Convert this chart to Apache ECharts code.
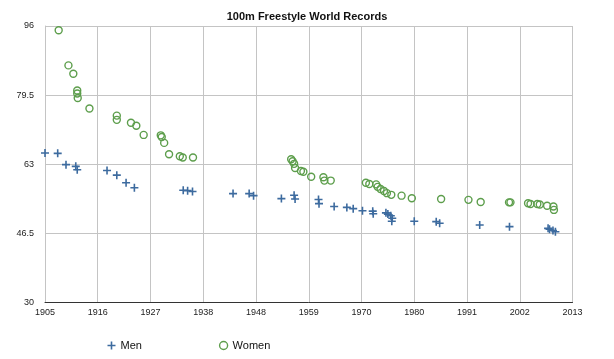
<!DOCTYPE html>
<html>
<head>
<meta charset="utf-8">
<script src="https://cdn.jsdelivr.net/npm/echarts@6/dist/echarts.min.js"></script>
<style>
html,body{margin:0;padding:0;background:#fff;}
#c{width:614px;height:359px;}
</style>
</head>
<body>
<div id="c"></div>
<script>
const title = '100m Freestyle World Records';
const seriesNames = ['Men', 'Women'];
const xTickLabels = ['1905','1916','1927','1938','1948','1959','1970','1980','1991','2002','2013'];
const yTickValues = [30, 46.5, 63, 79.5, 96];

const menYears = [1905.0,1907.6,1909.3,1911.3,1911.6,1917.7,1919.7,1921.6,1923.3,1933.3,1934.2,1935.2,1943.5,1946.8,1947.7,1953.4,1956.0,1956.2,1961.0,1961.1,1964.2,1966.8,1968.1,1970.0,1972.1,1972.2,1974.8,1975.2,1975.8,1976.1,1976.0,1980.6,1985.1,1985.8,1994.0,2000.1,2008.0,2008.3,2009.0,2009.5];
const menTimes = [65.7,65.6,62.9,62.5,61.7,61.5,60.4,58.6,57.4,56.8,56.7,56.5,56.0,56.0,55.5,54.8,55.6,54.7,54.6,53.6,52.9,52.7,52.4,51.9,51.8,51.2,51.4,51.1,50.7,50.1,49.4,49.4,49.3,48.9,48.5,48.1,47.7,47.5,47.2,46.9];

const womenYears = [1907.8,1909.8,1910.8,1911.6,1911.6,1911.7,1914.1,1919.7,1919.7,1922.6,1923.7,1925.2,1928.7,1928.9,1929.4,1930.4,1932.6,1933.2,1935.3,1955.4,1955.7,1956.0,1956.2,1957.4,1957.9,1959.5,1962.0,1962.2,1963.5,1970.7,1971.4,1972.8,1973.1,1973.7,1974.4,1975.0,1975.9,1978.0,1980.1,1986.1,1991.7,1994.2,2000.0,2000.3,2003.9,2004.4,2005.8,2006.3,2007.8,2009.1,2009.2];
const womenTimes = [95.0,86.6,84.6,80.6,79.9,78.8,76.3,74.6,73.6,72.9,72.2,70.0,69.9,69.5,68.1,65.4,64.9,64.6,64.6,64.2,63.7,63.1,62.1,61.4,61.2,60.0,59.9,59.1,59.1,58.6,58.3,58.2,57.6,57.1,56.6,56.1,55.7,55.5,54.9,54.7,54.5,54.0,53.9,53.9,53.7,53.5,53.5,53.4,53.1,52.9,52.1];

const xMin = 1905, xMax = 2013;
const xTickValues = xTickLabels.map((_, i) => xMin + i * (xMax - xMin) / (xTickLabels.length - 1));
const plusPath = 'path://M4,0H6V4H10V6H6V10H4V6H0V4H4Z';
const blue = '#3d6b9f';
const green = '#5d9e4c';
const font = 'Liberation Sans, Arial, Helvetica, sans-serif';

const chart = echarts.init(document.getElementById('c'), null, {renderer: 'canvas'});
chart.setOption({
  animation: false,
  backgroundColor: '#fff',
  title: {
    text: title, left: 'center', top: 6,
    textStyle: {fontFamily: font, fontSize: 11, fontWeight: 'bold', color: '#111'}
  },
  grid: {left: 45, right: 41.5, top: 26, bottom: 56.5, containLabel: false},
  legend: {
    left: 102.5, top: 335, itemGap: 77, itemWidth: 8, itemHeight: 8,
    textStyle: {fontFamily: font, fontSize: 11, color: '#111'},
    data: [
      {name: seriesNames[0], icon: plusPath, itemStyle: {color: blue}},
      {name: seriesNames[1], icon: 'circle', itemStyle: {color: 'rgba(255,255,255,0)', borderColor: green, borderWidth: 1.4}}
    ]
  },
  xAxis: {
    type: 'value', min: xMin, max: xMax,
    axisLine: {show: true, onZero: false, lineStyle: {color: '#333', width: 1}},
    axisTick: {show: false, customValues: xTickValues},
    axisLabel: {
      customValues: xTickValues, margin: 6,
      fontFamily: font, fontSize: 9, color: '#222',
      formatter: (v) => { const i = xTickValues.findIndex(t => Math.abs(t - v) < 0.01); return i >= 0 ? xTickLabels[i] : ''; }
    },
    splitLine: {show: true, lineStyle: {color: '#c4c4c4', width: 1}}
  },
  yAxis: {
    type: 'value', min: 30, max: 96,
    axisLine: {show: true, lineStyle: {color: '#c4c4c4', width: 1}},
    axisTick: {show: false, customValues: yTickValues},
    axisLabel: {customValues: yTickValues, margin: 11, fontFamily: font, fontSize: 9, color: '#222'},
    splitLine: {show: true, lineStyle: {color: '#c4c4c4', width: 1}}
  },
  series: [
    {
      name: seriesNames[0], type: 'scatter',
      symbol: plusPath, symbolSize: 8,
      itemStyle: {color: blue, opacity: 1},
      data: menYears.map((y, i) => [y, menTimes[i]])
    },
    {
      name: seriesNames[1], type: 'scatter',
      symbol: 'circle', symbolSize: 7,
      itemStyle: {color: 'rgba(255,255,255,0)', borderColor: green, borderWidth: 1.4, opacity: 1},
      data: womenYears.map((y, i) => [y, womenTimes[i]])
    }
  ]
});
</script>
</body>
</html>
